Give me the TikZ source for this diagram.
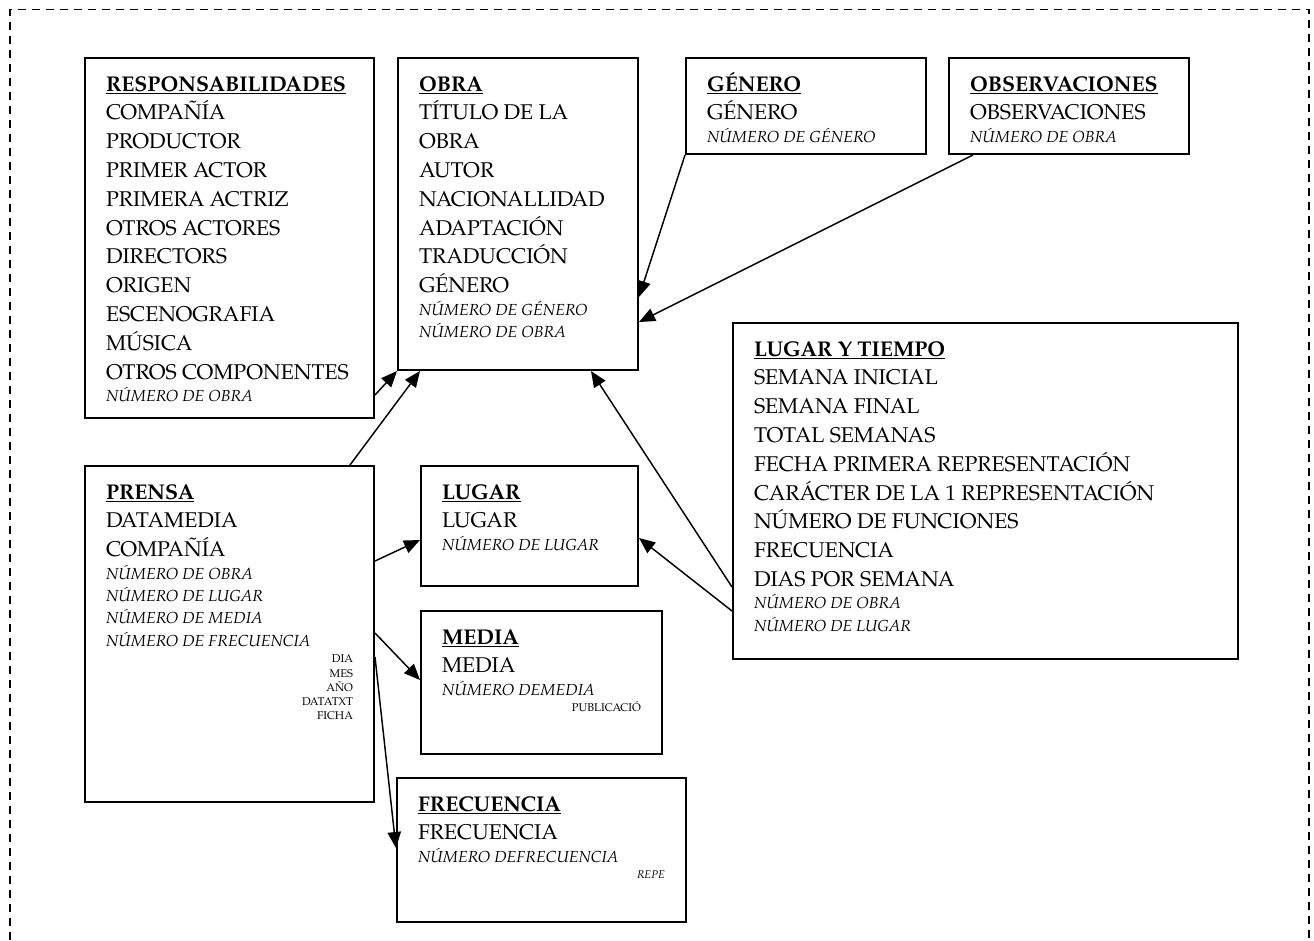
\documentclass[tikz,border=0pt]{standalone}
\usepackage{fontspec}
\setmainfont{TeX Gyre Pagella}
\usetikzlibrary{arrows.meta,calc}

\newdimen\px \px=0.75pt
\newcommand{\titulo}[1]{{\fontsize{16}{21.6}\selectfont\bfseries\mbox{\rule{0pt}{24.75pt}\underline{#1}}\par}}
\newcommand{\campo}[1]{{\fontsize{16}{21.6}\selectfont\mbox{#1}\par}}
\newcommand{\clave}[1]{{\fontsize{12}{16.8}\selectfont\itshape\mbox{#1}\par}}
\newcommand{\nota}[1]{{\vspace{1.8pt}\fontsize{8.4}{10.7}\selectfont\raggedleft #1\par}}
\newcommand{\tabla}[3]{\parbox[t][#2\px][t]{\dimexpr#1\px-42\px\relax}{#3}}

\begin{document}
\begin{tikzpicture}[x=0.75pt, y=-0.75pt,
    tabla/.style={draw, line width=1.5pt, inner xsep=15.75pt, inner ysep=0pt, anchor=north west},
    flecha/.style={-{Triangle[length=12pt,width=10pt]}, line width=1.1pt}]
    \useasboundingbox (0,0) rectangle (1314,940);
    \draw[dash pattern=on 6pt off 4.5pt, line width=1.3pt] (10,940) -- (10,9.5) -- (1309,9.5) -- (1309,940);

    % tablas
    \node[tabla] (resp) at (84,57) {\tabla{289}{360}{\titulo{RESPONSABILIDADES}
        \campo{COMPAÑÍA}\campo{PRODUCTOR}\campo{PRIMER ACTOR}\campo{PRIMERA ACTRIZ}
        \campo{OTROS ACTORES}\campo{DIRECTORS}\campo{ORIGEN}\campo{ESCENOGRAFIA}
        \campo{MÚSICA}\campo{OTROS COMPONENTES}\clave{NÚMERO DE OBRA}}};
    \node[tabla] (obra) at (397,57) {\tabla{240}{312}{\titulo{OBRA}
        \campo{TÍTULO DE LA}\campo{OBRA}\campo{AUTOR}\campo{NACIONALLIDAD}
        \campo{ADAPTACIÓN}\campo{TRADUCCIÓN}\campo{GÉNERO}
        \clave{NÚMERO DE GÉNERO}\clave{NÚMERO DE OBRA}}};
    \node[tabla] (genero) at (685,57) {\tabla{240}{96}{\titulo{GÉNERO}
        \campo{GÉNERO}\clave{NÚMERO DE GÉNERO}}};
    \node[tabla] (obs) at (948,57) {\tabla{240}{96}{\titulo{OBSERVACIONES}
        \campo{OBSERVACIONES}\clave{NÚMERO DE OBRA}}};
    \node[tabla] (lyt) at (732,322) {\tabla{505}{336}{\titulo{LUGAR Y TIEMPO}
        \campo{SEMANA INICIAL}\campo{SEMANA FINAL}\campo{TOTAL SEMANAS}
        \campo{FECHA PRIMERA REPRESENTACIÓN}\campo{CARÁCTER DE LA 1 REPRESENTACIÓN}
        \campo{NÚMERO DE FUNCIONES}\campo{FRECUENCIA}\campo{DIAS POR SEMANA}
        \clave{NÚMERO DE OBRA}\clave{NÚMERO DE LUGAR}}};
    \node[tabla] (prensa) at (84,465) {\tabla{289}{336}{\titulo{PRENSA}
        \campo{DATAMEDIA}\campo{COMPAÑÍA}
        \clave{NÚMERO DE OBRA}\clave{NÚMERO DE LUGAR}\clave{NÚMERO DE MEDIA}
        \clave{NÚMERO DE FRECUENCIA}\nota{DIA\\MES\\AÑO\\DATATXT\\FICHA}}};
    \node[tabla] (lugar) at (420,465) {\tabla{217}{120}{\titulo{LUGAR}
        \campo{LUGAR}\clave{NÚMERO DE LUGAR}}};
    \node[tabla] (media) at (420,610) {\tabla{241}{143}{\titulo{MEDIA}
        \campo{MEDIA}\clave{NÚMERO DEMEDIA}\nota{PUBLICACIÓ}}};
    \node[tabla] (frec) at (396,777) {\tabla{289}{144}{\titulo{FRECUENCIA}
        \campo{FRECUENCIA}\clave{NÚMERO DEFRECUENCIA}\nota{\itshape REPE}}};

    % relaciones
    \draw[flecha] ($(resp.south east)+(0,-24)$) -- (obra.south west);
    \draw[flecha] ($(prensa.north east)+(-25,0)$) -- ($(obra.south west)+(23,0)$);
    \draw[flecha] ($(lyt.south west)+(0,-73)$) -- ($(obra.south east)+(-48,0)$);
    \draw[flecha] (genero.south west) -- ($(obra.south east)+(0,-74)$);
    \draw[flecha] ($(obs.south west)+(25,0)$) -- ($(obra.south east)+(0,-49)$);
    \draw[flecha] ($(prensa.north east)+(0,96)$) -- ($(lugar.north west)+(0,75)$);
    \draw[flecha] ($(lyt.south west)+(0,-49)$) -- ($(lugar.north east)+(0,73)$);
    \draw[flecha] ($(prensa.north east)+(0,168)$) -- ($(media.north west)+(0,70)$);
    \draw[flecha] ($(prensa.north east)+(0,192)$) -- ($(frec.north west)+(0,71)$);
\end{tikzpicture}
\end{document}
